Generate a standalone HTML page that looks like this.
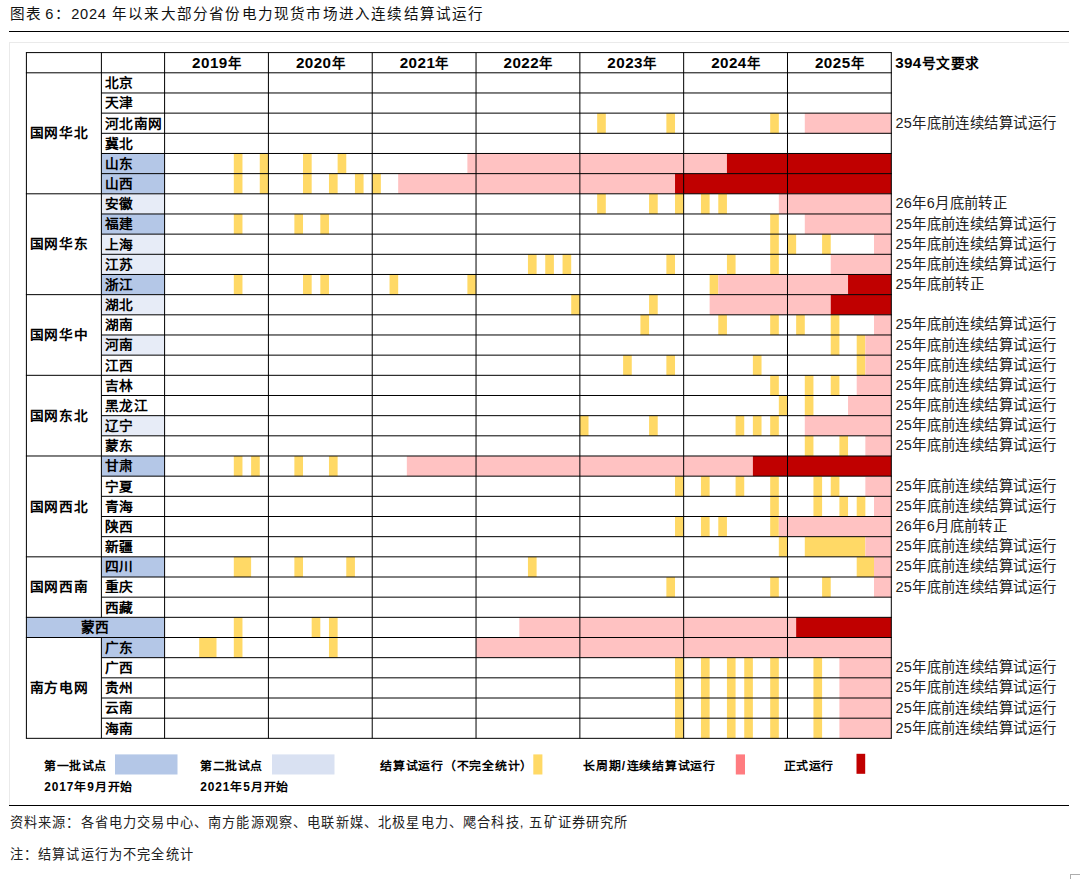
<!DOCTYPE html>
<html lang="zh-CN"><head><meta charset="utf-8"><title>图表 6</title><style>
html,body{margin:0;padding:0;background:#fff;}
body{width:1080px;height:879px;position:relative;overflow:hidden;font-family:"Liberation Sans",sans-serif;color:#000;}
svg{position:absolute;left:0;top:0;}
.t{position:absolute;white-space:nowrap;height:20px;line-height:20px;font-size:13.7px;letter-spacing:0.45px;}
.b{font-weight:bold;}.sq{transform:scaleY(0.93);transform-origin:50% 55%;}
.yr{text-align:center;font-size:13.4px;letter-spacing:0.2px;}.yd{font-size:15.2px;letter-spacing:0.45px;}
.n{font-size:14.4px;font-weight:normal;color:#222;letter-spacing:0.42px;}
.lg{font-size:11.9px;}
.title{position:absolute;left:10px;top:3px;height:22px;line-height:22px;font-size:14.6px;letter-spacing:1.2px;white-space:nowrap;color:#111;}
.src{position:absolute;left:9.7px;height:20px;line-height:20px;font-size:13.2px;letter-spacing:1.17px;white-space:nowrap;color:#222;}
.rule{position:absolute;background:#000;height:1px;}
.frame{position:absolute;left:9px;top:42px;width:1060px;height:763px;border-top:1px solid #EAEAEA;border-left:1px solid #EAEAEA;box-sizing:border-box;}
.corner{position:absolute;left:1070px;top:874px;width:20px;height:10px;border:1px solid #ADADAD;box-sizing:border-box;}
</style></head><body>
<div class="title"><span style="word-spacing:-2.4px;">图表 6</span><span style="margin-left:0.8px;">：</span><span style="letter-spacing:0.75px;margin-left:-0.4px;">2024</span> 年以来大部分省份电力现货市场进入连续结算试运行</div>
<div class="rule" style="left:9px;top:31px;width:1060px;"></div>
<div class="frame"></div>
<svg width="1080" height="879" viewBox="0 0 1080 879"><rect x="597.16" y="113.14" width="8.65" height="20.17" fill="#FFD966"/><rect x="666.37" y="113.14" width="8.65" height="20.17" fill="#FFD966"/><rect x="770.18" y="113.14" width="8.65" height="20.17" fill="#FFD966"/><rect x="804.79" y="113.14" width="86.51" height="20.17" fill="#FFC2C2"/><rect x="101.4" y="153.47" width="63.2" height="20.17" fill="#B4C7E7"/><rect x="233.81" y="153.47" width="8.65" height="20.17" fill="#FFD966"/><rect x="259.76" y="153.47" width="8.65" height="20.17" fill="#FFD966"/><rect x="303.02" y="153.47" width="8.65" height="20.17" fill="#FFD966"/><rect x="337.62" y="153.47" width="8.65" height="20.17" fill="#FFD966"/><rect x="467.39" y="153.47" width="259.54" height="20.17" fill="#FFC2C2"/><rect x="726.93" y="153.47" width="164.37" height="20.17" fill="#C00000"/><rect x="101.4" y="173.64" width="63.2" height="20.17" fill="#B4C7E7"/><rect x="233.81" y="173.64" width="8.65" height="20.17" fill="#FFD966"/><rect x="259.76" y="173.64" width="8.65" height="20.17" fill="#FFD966"/><rect x="303.02" y="173.64" width="8.65" height="20.17" fill="#FFD966"/><rect x="328.97" y="173.64" width="8.65" height="20.17" fill="#FFD966"/><rect x="354.93" y="173.64" width="8.65" height="20.17" fill="#FFD966"/><rect x="372.23" y="173.64" width="8.65" height="20.17" fill="#FFD966"/><rect x="398.18" y="173.64" width="276.84" height="20.17" fill="#FFC2C2"/><rect x="675.02" y="173.64" width="216.28" height="20.17" fill="#C00000"/><rect x="101.4" y="193.81" width="63.2" height="20.17" fill="#E7ECF7"/><rect x="597.16" y="193.81" width="8.65" height="20.17" fill="#FFD966"/><rect x="649.07" y="193.81" width="8.65" height="20.17" fill="#FFD966"/><rect x="675.02" y="193.81" width="8.65" height="20.17" fill="#FFD966"/><rect x="700.97" y="193.81" width="8.65" height="20.17" fill="#FFD966"/><rect x="718.28" y="193.81" width="8.65" height="20.17" fill="#FFD966"/><rect x="778.83" y="193.81" width="112.47" height="20.17" fill="#FFC2C2"/><rect x="101.4" y="213.98" width="63.2" height="20.17" fill="#B4C7E7"/><rect x="233.81" y="213.98" width="8.65" height="20.17" fill="#FFD966"/><rect x="294.37" y="213.98" width="8.65" height="20.17" fill="#FFD966"/><rect x="320.32" y="213.98" width="8.65" height="20.17" fill="#FFD966"/><rect x="770.18" y="213.98" width="8.65" height="20.17" fill="#FFD966"/><rect x="804.79" y="213.98" width="86.51" height="20.17" fill="#FFC2C2"/><rect x="101.4" y="234.14" width="63.2" height="20.17" fill="#E7ECF7"/><rect x="770.18" y="234.14" width="8.65" height="20.17" fill="#FFD966"/><rect x="787.49" y="234.14" width="8.65" height="20.17" fill="#FFD966"/><rect x="822.09" y="234.14" width="8.65" height="20.17" fill="#FFD966"/><rect x="874" y="234.14" width="17.3" height="20.17" fill="#FFC2C2"/><rect x="101.4" y="254.31" width="63.2" height="20.17" fill="#E7ECF7"/><rect x="527.95" y="254.31" width="8.65" height="20.17" fill="#FFD966"/><rect x="545.25" y="254.31" width="8.65" height="20.17" fill="#FFD966"/><rect x="562.55" y="254.31" width="8.65" height="20.17" fill="#FFD966"/><rect x="666.37" y="254.31" width="8.65" height="20.17" fill="#FFD966"/><rect x="726.93" y="254.31" width="8.65" height="20.17" fill="#FFD966"/><rect x="770.18" y="254.31" width="8.65" height="20.17" fill="#FFD966"/><rect x="830.74" y="254.31" width="60.56" height="20.17" fill="#FFC2C2"/><rect x="101.4" y="274.48" width="63.2" height="20.17" fill="#B4C7E7"/><rect x="233.81" y="274.48" width="8.65" height="20.17" fill="#FFD966"/><rect x="303.02" y="274.48" width="8.65" height="20.17" fill="#FFD966"/><rect x="320.32" y="274.48" width="8.65" height="20.17" fill="#FFD966"/><rect x="389.53" y="274.48" width="8.65" height="20.17" fill="#FFD966"/><rect x="467.39" y="274.48" width="8.65" height="20.17" fill="#FFD966"/><rect x="709.62" y="274.48" width="8.65" height="20.17" fill="#FFD966"/><rect x="718.28" y="274.48" width="129.77" height="20.17" fill="#FFC2C2"/><rect x="848.04" y="274.48" width="43.26" height="20.17" fill="#C00000"/><rect x="101.4" y="294.65" width="63.2" height="20.17" fill="#E7ECF7"/><rect x="571.21" y="294.65" width="8.65" height="20.17" fill="#FFD966"/><rect x="649.07" y="294.65" width="8.65" height="20.17" fill="#FFD966"/><rect x="709.62" y="294.65" width="121.12" height="20.17" fill="#FFC2C2"/><rect x="830.74" y="294.65" width="60.56" height="20.17" fill="#C00000"/><rect x="640.42" y="314.82" width="8.65" height="20.17" fill="#FFD966"/><rect x="718.28" y="314.82" width="8.65" height="20.17" fill="#FFD966"/><rect x="770.18" y="314.82" width="8.65" height="20.17" fill="#FFD966"/><rect x="796.14" y="314.82" width="8.65" height="20.17" fill="#FFD966"/><rect x="830.74" y="314.82" width="8.65" height="20.17" fill="#FFD966"/><rect x="874" y="314.82" width="17.3" height="20.17" fill="#FFC2C2"/><rect x="101.4" y="334.98" width="63.2" height="20.17" fill="#E7ECF7"/><rect x="830.74" y="334.98" width="8.65" height="20.17" fill="#FFD966"/><rect x="856.7" y="334.98" width="8.65" height="20.17" fill="#FFD966"/><rect x="865.35" y="334.98" width="25.95" height="20.17" fill="#FFC2C2"/><rect x="623.11" y="355.15" width="8.65" height="20.17" fill="#FFD966"/><rect x="666.37" y="355.15" width="8.65" height="20.17" fill="#FFD966"/><rect x="752.88" y="355.15" width="8.65" height="20.17" fill="#FFD966"/><rect x="856.7" y="355.15" width="8.65" height="20.17" fill="#FFD966"/><rect x="865.35" y="355.15" width="25.95" height="20.17" fill="#FFC2C2"/><rect x="770.18" y="375.32" width="8.65" height="20.17" fill="#FFD966"/><rect x="804.79" y="375.32" width="8.65" height="20.17" fill="#FFD966"/><rect x="830.74" y="375.32" width="8.65" height="20.17" fill="#FFD966"/><rect x="856.7" y="375.32" width="34.6" height="20.17" fill="#FFC2C2"/><rect x="778.83" y="395.49" width="8.65" height="20.17" fill="#FFD966"/><rect x="804.79" y="395.49" width="8.65" height="20.17" fill="#FFD966"/><rect x="848.04" y="395.49" width="43.26" height="20.17" fill="#FFC2C2"/><rect x="101.4" y="415.66" width="63.2" height="20.17" fill="#E7ECF7"/><rect x="579.86" y="415.66" width="8.65" height="20.17" fill="#FFD966"/><rect x="649.07" y="415.66" width="8.65" height="20.17" fill="#FFD966"/><rect x="735.58" y="415.66" width="8.65" height="20.17" fill="#FFD966"/><rect x="752.88" y="415.66" width="8.65" height="20.17" fill="#FFD966"/><rect x="770.18" y="415.66" width="8.65" height="20.17" fill="#FFD966"/><rect x="804.79" y="415.66" width="86.51" height="20.17" fill="#FFC2C2"/><rect x="804.79" y="435.82" width="8.65" height="20.17" fill="#FFD966"/><rect x="839.39" y="435.82" width="8.65" height="20.17" fill="#FFD966"/><rect x="865.35" y="435.82" width="25.95" height="20.17" fill="#FFC2C2"/><rect x="101.4" y="455.99" width="63.2" height="20.17" fill="#B4C7E7"/><rect x="233.81" y="455.99" width="8.65" height="20.17" fill="#FFD966"/><rect x="251.11" y="455.99" width="8.65" height="20.17" fill="#FFD966"/><rect x="294.37" y="455.99" width="8.65" height="20.17" fill="#FFD966"/><rect x="328.97" y="455.99" width="8.65" height="20.17" fill="#FFD966"/><rect x="406.83" y="455.99" width="346.05" height="20.17" fill="#FFC2C2"/><rect x="752.88" y="455.99" width="138.42" height="20.17" fill="#C00000"/><rect x="675.02" y="476.16" width="8.65" height="20.17" fill="#FFD966"/><rect x="700.97" y="476.16" width="8.65" height="20.17" fill="#FFD966"/><rect x="735.58" y="476.16" width="8.65" height="20.17" fill="#FFD966"/><rect x="770.18" y="476.16" width="8.65" height="20.17" fill="#FFD966"/><rect x="813.44" y="476.16" width="8.65" height="20.17" fill="#FFD966"/><rect x="830.74" y="476.16" width="8.65" height="20.17" fill="#FFD966"/><rect x="865.35" y="476.16" width="25.95" height="20.17" fill="#FFC2C2"/><rect x="770.18" y="496.33" width="8.65" height="20.17" fill="#FFD966"/><rect x="813.44" y="496.33" width="8.65" height="20.17" fill="#FFD966"/><rect x="839.39" y="496.33" width="8.65" height="20.17" fill="#FFD966"/><rect x="856.7" y="496.33" width="8.65" height="20.17" fill="#FFD966"/><rect x="874" y="496.33" width="17.3" height="20.17" fill="#FFC2C2"/><rect x="675.02" y="516.5" width="8.65" height="20.17" fill="#FFD966"/><rect x="700.97" y="516.5" width="8.65" height="20.17" fill="#FFD966"/><rect x="718.28" y="516.5" width="8.65" height="20.17" fill="#FFD966"/><rect x="770.18" y="516.5" width="8.65" height="20.17" fill="#FFD966"/><rect x="778.83" y="516.5" width="112.47" height="20.17" fill="#FFC2C2"/><rect x="778.83" y="536.66" width="8.65" height="20.17" fill="#FFD966"/><rect x="804.79" y="536.66" width="60.56" height="20.17" fill="#FFD966"/><rect x="865.35" y="536.66" width="25.95" height="20.17" fill="#FFC2C2"/><rect x="101.4" y="556.83" width="63.2" height="20.17" fill="#B4C7E7"/><rect x="233.81" y="556.83" width="17.3" height="20.17" fill="#FFD966"/><rect x="294.37" y="556.83" width="8.65" height="20.17" fill="#FFD966"/><rect x="346.27" y="556.83" width="8.65" height="20.17" fill="#FFD966"/><rect x="527.95" y="556.83" width="8.65" height="20.17" fill="#FFD966"/><rect x="856.7" y="556.83" width="17.3" height="20.17" fill="#FFD966"/><rect x="874" y="556.83" width="17.3" height="20.17" fill="#FFC2C2"/><rect x="666.37" y="577" width="8.65" height="20.17" fill="#FFD966"/><rect x="770.18" y="577" width="8.65" height="20.17" fill="#FFD966"/><rect x="822.09" y="577" width="8.65" height="20.17" fill="#FFD966"/><rect x="874" y="577" width="17.3" height="20.17" fill="#FFC2C2"/><rect x="26.4" y="617.34" width="138.2" height="20.17" fill="#B4C7E7"/><rect x="233.81" y="617.34" width="8.65" height="20.17" fill="#FFD966"/><rect x="311.67" y="617.34" width="8.65" height="20.17" fill="#FFD966"/><rect x="328.97" y="617.34" width="8.65" height="20.17" fill="#FFD966"/><rect x="519.3" y="617.34" width="276.84" height="20.17" fill="#FFC2C2"/><rect x="796.14" y="617.34" width="95.16" height="20.17" fill="#C00000"/><rect x="101.4" y="637.5" width="63.2" height="20.17" fill="#B4C7E7"/><rect x="199.2" y="637.5" width="17.3" height="20.17" fill="#FFD966"/><rect x="233.81" y="637.5" width="8.65" height="20.17" fill="#FFD966"/><rect x="328.97" y="637.5" width="8.65" height="20.17" fill="#FFD966"/><rect x="476.04" y="637.5" width="415.26" height="20.17" fill="#FFC2C2"/><rect x="675.02" y="657.67" width="8.65" height="20.17" fill="#FFD966"/><rect x="700.97" y="657.67" width="8.65" height="20.17" fill="#FFD966"/><rect x="726.93" y="657.67" width="8.65" height="20.17" fill="#FFD966"/><rect x="744.23" y="657.67" width="8.65" height="20.17" fill="#FFD966"/><rect x="770.18" y="657.67" width="8.65" height="20.17" fill="#FFD966"/><rect x="813.44" y="657.67" width="8.65" height="20.17" fill="#FFD966"/><rect x="839.39" y="657.67" width="51.91" height="20.17" fill="#FFC2C2"/><rect x="675.02" y="677.84" width="8.65" height="20.17" fill="#FFD966"/><rect x="700.97" y="677.84" width="8.65" height="20.17" fill="#FFD966"/><rect x="726.93" y="677.84" width="8.65" height="20.17" fill="#FFD966"/><rect x="744.23" y="677.84" width="8.65" height="20.17" fill="#FFD966"/><rect x="770.18" y="677.84" width="8.65" height="20.17" fill="#FFD966"/><rect x="813.44" y="677.84" width="8.65" height="20.17" fill="#FFD966"/><rect x="839.39" y="677.84" width="51.91" height="20.17" fill="#FFC2C2"/><rect x="675.02" y="698.01" width="8.65" height="20.17" fill="#FFD966"/><rect x="700.97" y="698.01" width="8.65" height="20.17" fill="#FFD966"/><rect x="726.93" y="698.01" width="8.65" height="20.17" fill="#FFD966"/><rect x="744.23" y="698.01" width="8.65" height="20.17" fill="#FFD966"/><rect x="770.18" y="698.01" width="8.65" height="20.17" fill="#FFD966"/><rect x="813.44" y="698.01" width="8.65" height="20.17" fill="#FFD966"/><rect x="839.39" y="698.01" width="51.91" height="20.17" fill="#FFC2C2"/><rect x="675.02" y="718.18" width="8.65" height="20.17" fill="#FFD966"/><rect x="700.97" y="718.18" width="8.65" height="20.17" fill="#FFD966"/><rect x="726.93" y="718.18" width="8.65" height="20.17" fill="#FFD966"/><rect x="744.23" y="718.18" width="8.65" height="20.17" fill="#FFD966"/><rect x="770.18" y="718.18" width="8.65" height="20.17" fill="#FFD966"/><rect x="813.44" y="718.18" width="8.65" height="20.17" fill="#FFD966"/><rect x="839.39" y="718.18" width="51.91" height="20.17" fill="#FFC2C2"/><rect x="115" y="754.4" width="62.5" height="20.1" fill="#B4C7E7"/><rect x="272" y="754.4" width="62.5" height="20.1" fill="#D9E1F2"/><rect x="533.3" y="754.4" width="9.1" height="20.1" fill="#FFD966"/><rect x="735.8" y="754.4" width="9.2" height="20.1" fill="#FF7C80"/><rect x="856.5" y="753.8" width="8.7" height="20" fill="#C00000"/><line x1="25.9" y1="52.6" x2="891.8" y2="52.6" stroke="#000" stroke-width="1"/><line x1="25.9" y1="72.8" x2="891.8" y2="72.8" stroke="#000" stroke-width="1"/><line x1="101.4" y1="92.97" x2="891.8" y2="92.97" stroke="#000" stroke-width="1"/><line x1="101.4" y1="113.14" x2="891.8" y2="113.14" stroke="#000" stroke-width="1"/><line x1="101.4" y1="133.3" x2="891.8" y2="133.3" stroke="#000" stroke-width="1"/><line x1="101.4" y1="153.47" x2="891.8" y2="153.47" stroke="#000" stroke-width="1"/><line x1="101.4" y1="173.64" x2="891.8" y2="173.64" stroke="#000" stroke-width="1"/><line x1="25.9" y1="193.81" x2="891.8" y2="193.81" stroke="#000" stroke-width="1"/><line x1="101.4" y1="213.98" x2="891.8" y2="213.98" stroke="#000" stroke-width="1"/><line x1="101.4" y1="234.14" x2="891.8" y2="234.14" stroke="#000" stroke-width="1"/><line x1="101.4" y1="254.31" x2="891.8" y2="254.31" stroke="#000" stroke-width="1"/><line x1="101.4" y1="274.48" x2="891.8" y2="274.48" stroke="#000" stroke-width="1"/><line x1="25.9" y1="294.65" x2="891.8" y2="294.65" stroke="#000" stroke-width="1"/><line x1="101.4" y1="314.82" x2="891.8" y2="314.82" stroke="#000" stroke-width="1"/><line x1="101.4" y1="334.98" x2="891.8" y2="334.98" stroke="#000" stroke-width="1"/><line x1="101.4" y1="355.15" x2="891.8" y2="355.15" stroke="#000" stroke-width="1"/><line x1="25.9" y1="375.32" x2="891.8" y2="375.32" stroke="#000" stroke-width="1"/><line x1="101.4" y1="395.49" x2="891.8" y2="395.49" stroke="#000" stroke-width="1"/><line x1="101.4" y1="415.66" x2="891.8" y2="415.66" stroke="#000" stroke-width="1"/><line x1="101.4" y1="435.82" x2="891.8" y2="435.82" stroke="#000" stroke-width="1"/><line x1="25.9" y1="455.99" x2="891.8" y2="455.99" stroke="#000" stroke-width="1"/><line x1="101.4" y1="476.16" x2="891.8" y2="476.16" stroke="#000" stroke-width="1"/><line x1="101.4" y1="496.33" x2="891.8" y2="496.33" stroke="#000" stroke-width="1"/><line x1="101.4" y1="516.5" x2="891.8" y2="516.5" stroke="#000" stroke-width="1"/><line x1="101.4" y1="536.66" x2="891.8" y2="536.66" stroke="#000" stroke-width="1"/><line x1="25.9" y1="556.83" x2="891.8" y2="556.83" stroke="#000" stroke-width="1"/><line x1="101.4" y1="577" x2="891.8" y2="577" stroke="#000" stroke-width="1"/><line x1="101.4" y1="597.17" x2="891.8" y2="597.17" stroke="#000" stroke-width="1"/><line x1="25.9" y1="617.34" x2="891.8" y2="617.34" stroke="#000" stroke-width="1"/><line x1="25.9" y1="637.5" x2="891.8" y2="637.5" stroke="#000" stroke-width="1"/><line x1="101.4" y1="657.67" x2="891.8" y2="657.67" stroke="#000" stroke-width="1"/><line x1="101.4" y1="677.84" x2="891.8" y2="677.84" stroke="#000" stroke-width="1"/><line x1="101.4" y1="698.01" x2="891.8" y2="698.01" stroke="#000" stroke-width="1"/><line x1="101.4" y1="718.18" x2="891.8" y2="718.18" stroke="#000" stroke-width="1"/><line x1="25.9" y1="738.34" x2="891.8" y2="738.34" stroke="#000" stroke-width="1"/><line x1="26.4" y1="52.6" x2="26.4" y2="738.34" stroke="#000" stroke-width="1"/><line x1="101.4" y1="52.6" x2="101.4" y2="617.34" stroke="#000" stroke-width="1"/><line x1="101.4" y1="637.5" x2="101.4" y2="738.34" stroke="#000" stroke-width="1"/><line x1="164.6" y1="52.6" x2="164.6" y2="738.34" stroke="#000" stroke-width="1"/><line x1="268.41" y1="52.6" x2="268.41" y2="738.34" stroke="#000" stroke-width="1"/><line x1="372.23" y1="52.6" x2="372.23" y2="738.34" stroke="#000" stroke-width="1"/><line x1="476.04" y1="52.6" x2="476.04" y2="738.34" stroke="#000" stroke-width="1"/><line x1="579.86" y1="52.6" x2="579.86" y2="738.34" stroke="#000" stroke-width="1"/><line x1="683.67" y1="52.6" x2="683.67" y2="738.34" stroke="#000" stroke-width="1"/><line x1="787.49" y1="52.6" x2="787.49" y2="738.34" stroke="#000" stroke-width="1"/><line x1="891.3" y1="52.6" x2="891.3" y2="738.34" stroke="#000" stroke-width="1"/></svg>
<div class="t b yr" style="left:166.51px;top:52.7px;width:100px;"><span class="yd">2019</span>年</div>
<div class="t b yr" style="left:270.32px;top:52.7px;width:100px;"><span class="yd">2020</span>年</div>
<div class="t b yr" style="left:374.14px;top:52.7px;width:100px;"><span class="yd">2021</span>年</div>
<div class="t b yr" style="left:477.95px;top:52.7px;width:100px;"><span class="yd">2022</span>年</div>
<div class="t b yr" style="left:581.76px;top:52.7px;width:100px;"><span class="yd">2023</span>年</div>
<div class="t b yr" style="left:685.58px;top:52.7px;width:100px;"><span class="yd">2024</span>年</div>
<div class="t b yr" style="left:789.39px;top:52.7px;width:100px;"><span class="yd">2025</span>年</div>
<div class="t b" style="left:895.3px;top:53.3px;letter-spacing:0.6px;"><span class="yd" style="letter-spacing:0.3px;">394</span>号文要求</div>
<div class="t b sq" style="left:104.5px;top:73.18px;letter-spacing:0.6px;">北京</div>
<div class="t b sq" style="left:104.5px;top:93.35px;letter-spacing:0.6px;">天津</div>
<div class="t b sq" style="left:104.5px;top:113.52px;letter-spacing:0.6px;">河北南网</div>
<div class="t n" style="left:895.4px;top:112.72px;">25年底前连续结算试运行</div>
<div class="t b sq" style="left:104.5px;top:133.69px;letter-spacing:0.6px;">冀北</div>
<div class="t b sq" style="left:104.5px;top:153.86px;letter-spacing:0.6px;">山东</div>
<div class="t b sq" style="left:104.5px;top:174.02px;letter-spacing:0.6px;">山西</div>
<div class="t b sq" style="left:104.5px;top:194.19px;letter-spacing:0.6px;">安徽</div>
<div class="t n" style="left:895.4px;top:193.39px;">26年6月底前转正</div>
<div class="t b sq" style="left:104.5px;top:214.36px;letter-spacing:0.6px;">福建</div>
<div class="t n" style="left:895.4px;top:213.56px;">25年底前连续结算试运行</div>
<div class="t b sq" style="left:104.5px;top:234.53px;letter-spacing:0.6px;">上海</div>
<div class="t n" style="left:895.4px;top:233.73px;">25年底前连续结算试运行</div>
<div class="t b sq" style="left:104.5px;top:254.7px;letter-spacing:0.6px;">江苏</div>
<div class="t n" style="left:895.4px;top:253.9px;">25年底前连续结算试运行</div>
<div class="t b sq" style="left:104.5px;top:274.86px;letter-spacing:0.6px;">浙江</div>
<div class="t n" style="left:895.4px;top:274.06px;">25年底前转正</div>
<div class="t b sq" style="left:104.5px;top:295.03px;letter-spacing:0.6px;">湖北</div>
<div class="t b sq" style="left:104.5px;top:315.2px;letter-spacing:0.6px;">湖南</div>
<div class="t n" style="left:895.4px;top:314.4px;">25年底前连续结算试运行</div>
<div class="t b sq" style="left:104.5px;top:335.37px;letter-spacing:0.6px;">河南</div>
<div class="t n" style="left:895.4px;top:334.57px;">25年底前连续结算试运行</div>
<div class="t b sq" style="left:104.5px;top:355.54px;letter-spacing:0.6px;">江西</div>
<div class="t n" style="left:895.4px;top:354.74px;">25年底前连续结算试运行</div>
<div class="t b sq" style="left:104.5px;top:375.7px;letter-spacing:0.6px;">吉林</div>
<div class="t n" style="left:895.4px;top:374.9px;">25年底前连续结算试运行</div>
<div class="t b sq" style="left:104.5px;top:395.87px;letter-spacing:0.6px;">黑龙江</div>
<div class="t n" style="left:895.4px;top:395.07px;">25年底前连续结算试运行</div>
<div class="t b sq" style="left:104.5px;top:416.04px;letter-spacing:0.6px;">辽宁</div>
<div class="t n" style="left:895.4px;top:415.24px;">25年底前连续结算试运行</div>
<div class="t b sq" style="left:104.5px;top:436.21px;letter-spacing:0.6px;">蒙东</div>
<div class="t n" style="left:895.4px;top:435.41px;">25年底前连续结算试运行</div>
<div class="t b sq" style="left:104.5px;top:456.38px;letter-spacing:0.6px;">甘肃</div>
<div class="t b sq" style="left:104.5px;top:476.54px;letter-spacing:0.6px;">宁夏</div>
<div class="t n" style="left:895.4px;top:475.74px;">25年底前连续结算试运行</div>
<div class="t b sq" style="left:104.5px;top:496.71px;letter-spacing:0.6px;">青海</div>
<div class="t n" style="left:895.4px;top:495.91px;">25年底前连续结算试运行</div>
<div class="t b sq" style="left:104.5px;top:516.88px;letter-spacing:0.6px;">陕西</div>
<div class="t n" style="left:895.4px;top:516.08px;">26年6月底前转正</div>
<div class="t b sq" style="left:104.5px;top:537.05px;letter-spacing:0.6px;">新疆</div>
<div class="t n" style="left:895.4px;top:536.25px;">25年底前连续结算试运行</div>
<div class="t b sq" style="left:104.5px;top:557.22px;letter-spacing:0.6px;">四川</div>
<div class="t n" style="left:895.4px;top:556.42px;">25年底前连续结算试运行</div>
<div class="t b sq" style="left:104.5px;top:577.38px;letter-spacing:0.6px;">重庆</div>
<div class="t n" style="left:895.4px;top:576.58px;">25年底前连续结算试运行</div>
<div class="t b sq" style="left:104.5px;top:597.55px;letter-spacing:0.6px;">西藏</div>
<div class="t b" style="left:26.4px;top:618.22px;width:138.2px;text-align:center;">蒙西</div>
<div class="t b sq" style="left:104.5px;top:637.89px;letter-spacing:0.6px;">广东</div>
<div class="t b sq" style="left:104.5px;top:658.06px;letter-spacing:0.6px;">广西</div>
<div class="t n" style="left:895.4px;top:657.26px;">25年底前连续结算试运行</div>
<div class="t b sq" style="left:104.5px;top:678.22px;letter-spacing:0.6px;">贵州</div>
<div class="t n" style="left:895.4px;top:677.42px;">25年底前连续结算试运行</div>
<div class="t b sq" style="left:104.5px;top:698.39px;letter-spacing:0.6px;">云南</div>
<div class="t n" style="left:895.4px;top:697.59px;">25年底前连续结算试运行</div>
<div class="t b sq" style="left:104.5px;top:718.56px;letter-spacing:0.6px;">海南</div>
<div class="t n" style="left:895.4px;top:717.76px;">25年底前连续结算试运行</div>
<div class="t b sq" style="left:29.8px;top:123.4px;letter-spacing:0.7px;">国网华北</div>
<div class="t b sq" style="left:29.8px;top:234.33px;letter-spacing:0.7px;">国网华东</div>
<div class="t b sq" style="left:29.8px;top:325.08px;letter-spacing:0.7px;">国网华中</div>
<div class="t b sq" style="left:29.8px;top:405.76px;letter-spacing:0.7px;">国网东北</div>
<div class="t b sq" style="left:29.8px;top:496.51px;letter-spacing:0.7px;">国网西北</div>
<div class="t b sq" style="left:29.8px;top:577.18px;letter-spacing:0.7px;">国网西南</div>
<div class="t b sq" style="left:29.8px;top:678.02px;letter-spacing:0.7px;">南方电网</div>
<div class="t b lg" style="left:44.2px;top:755.6px;letter-spacing:0.5px;">第一批试点</div>
<div class="t b lg" style="left:44.2px;top:776.8px;letter-spacing:0.9px;">2017年9月开始</div>
<div class="t b lg" style="left:200.2px;top:755.6px;letter-spacing:0.5px;">第二批试点</div>
<div class="t b lg" style="left:200.2px;top:776.8px;letter-spacing:0.9px;">2021年5月开始</div>
<div class="t b lg" style="left:380px;top:755.6px;letter-spacing:0.75px;">结算试运行（不完全统计）</div>
<div class="t b lg" style="left:583px;top:755.6px;letter-spacing:0.75px;">长周期<span style="margin:0 0.8px 0 0.6px;">/</span>连续结算试运行</div>
<div class="t b lg" style="left:783.8px;top:755.6px;letter-spacing:0.5px;">正式运行</div>
<div class="rule" style="left:9px;top:805px;width:1060px;"></div>
<div class="src" style="top:812.5px;">资料来源：各省电力交易中心、南方能源观察、电联新媒、北极星电力、飔合科技, 五矿证券研究所</div>
<div class="src" style="top:845px;">注：结算试运行为不完全统计</div>
<div class="corner"></div>
</body></html>
